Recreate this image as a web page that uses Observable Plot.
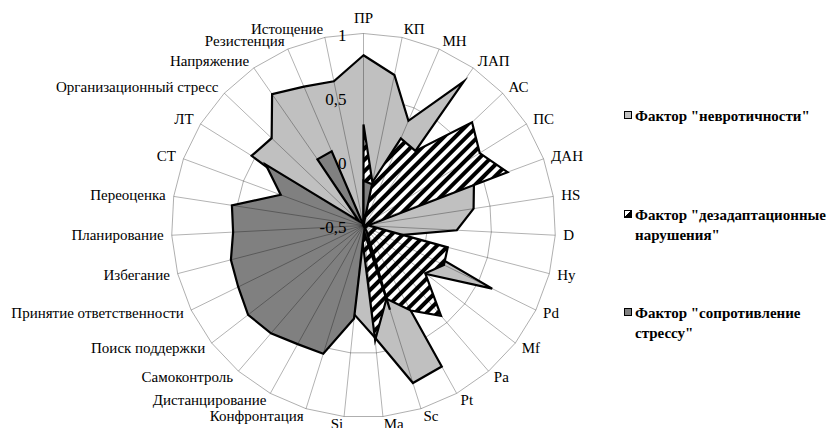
<!DOCTYPE html>
<html><head><meta charset="utf-8">
<script src="https://cdn.jsdelivr.net/npm/d3@7"></script>
<script src="https://cdn.jsdelivr.net/npm/@observablehq/plot@0.6"></script>
<style>
body{margin:0;background:#fff;}
#wrap{position:relative;width:836px;height:428px;overflow:hidden;}
#wrap svg text{font-family:"Liberation Serif","DejaVu Serif","Times New Roman",serif !important;}
.lg{position:absolute;left:635px;font-family:"Liberation Serif","DejaVu Serif","Times New Roman",serif;font-weight:bold;font-size:15px;line-height:20px;color:#000;white-space:nowrap;}
.sw{position:absolute;left:624px;width:6px;height:6px;border:1px solid #000;}
</style></head><body><div id="wrap"></div>
<script>
// ---- data ----
const categories = ["ПР","КП","МН","ЛАП","АС","ПС","ДАН","HS","D","Hy","Pd","Mf","Pa","Pt","Sc","Ma","Si",
  "Конфронтация","Дистанцирование","Самоконтроль","Поиск поддержки","Принятие ответственности","Избегание",
  "Планирование","Переоценка","СТ","ЛТ","Организационный стресс","Напряжение","Резистенция","Истощение"];
const neuroticism = [0.83, 0.70, 0.39, 0.87, -0.50, 0.10, 0.42, 0.37, 0.23, -0.20, 0.62, 0.12, -0.50, 0.76, 0.79, 0.38,
  0.20, 0.10, 0.10, 0.10, 0.10, 0.10, 0.10, 0.10, 0.10, -0.20, 0.53, 0.49, 0.75, 0.68, 0.65];
const maladaptation = [0.29, -0.155, 0.24, 0.21, 0.67, 0.57, 0.70, -0.44, -0.45, 0.18, 0.20, 0.11, 0.43, 0.26, 0.10, 0.40,
  -0.40, -0.50, -0.50, -0.50, -0.50, -0.50, -0.50, -0.50, -0.50, -0.50, -0.50, -0.50, -0.50, -0.50, -0.50];
const stressResistance = [-0.15, -0.17, -0.50, -0.50, -0.50, -0.50, -0.50, -0.50, -0.50, -0.50, -0.50, -0.50, -0.50, -0.45, 0.19, -0.45,
  0.23, 0.55, 0.56, 0.61, 0.64, 0.59, 0.57, 0.52, 0.54, 0.19, 0.40, -0.45, 0.13, 0.13, -0.50];
const ringTicks = [1, 0.5, 0, -0.5];
const ringTickLabels = ["1", "0,5", "0", "-0,5"];
const gridRings = [0, 0.5, 1];
const legendLabels = [["Фактор \"невротичности\""], ["Фактор \"дезадаптационные", "нарушения\""], ["Фактор \"сопротивление", "стрессу\""]];

// ---- layout ----
const W = 836, H = 428, cx = 363, cy = 225, R = 192;
const vMin = -0.5, vMax = 1;
const n = categories.length;
const rad = v => (v - vMin) / (vMax - vMin);
const ang = i => 2 * Math.PI * i / n;
const pt = (i, v) => ({x: rad(v) * Math.sin(ang(i)), y: rad(v) * Math.cos(ang(i))});
const poly = vals => vals.map((v, i) => pt(i, v));

const ringPts = gridRings.flatMap(v => categories.map((c, i) => ({...pt(i, v), ring: v})));
const lblR = 1.042;
const labels = categories.map((c, i) => ({c, i, x: lblR * Math.sin(ang(i)), y: lblR * Math.cos(ang(i)), s: Math.sin(ang(i))}));
const font = "Liberation Serif, DejaVu Serif, serif";
const outline = {x: "x", y: "y", curve: "linear-closed", stroke: "#000", strokeWidth: 2.2, strokeLinejoin: "miter", strokeMiterlimit: 6};

const chart = Plot.plot({
  width: W, height: H, margin: 0,
  x: {domain: [-cx / R, (W - cx) / R], axis: null},
  y: {domain: [-(H - cy) / R, cy / R], axis: null},
  style: {background: "#fff"},
  marks: [
    Plot.line(ringPts, {x: "x", y: "y", z: "ring", curve: "linear-closed", stroke: "#9a9a9a", strokeWidth: 0.8}),
    Plot.line(poly(neuroticism), {...outline, fill: "#c0c0c0"}),
    Plot.line(poly(maladaptation), {...outline, fill: "url(#hatch)"}),
    Plot.line(poly(stressResistance), {...outline, fill: "#808080"}),
    Plot.link(categories, {x1: () => 0, y1: () => 0, x2: (d, i) => pt(i, 1).x, y2: (d, i) => pt(i, 1).y,
      stroke: "#000", strokeOpacity: 0.38, strokeWidth: 0.8}),
    Plot.text(ringTicks, {x: () => 0, y: v => rad(v), text: (d, i) => ringTickLabels[i], textAnchor: "end",
      dx: -17, dy: 2, fontSize: 17, fontFamily: font, fill: "#000"}),
    Plot.text(labels.filter(d => d.s > 0.02), {x: "x", y: "y", text: "c", textAnchor: "start", lineAnchor: "middle", fontSize: 15, fontFamily: font, fill: "#000"}),
    Plot.text(labels.filter(d => d.s < -0.02), {x: "x", y: "y", text: "c", textAnchor: "end", lineAnchor: "middle", fontSize: 15, fontFamily: font, fill: "#000"}),
    Plot.text(labels.filter(d => Math.abs(d.s) <= 0.02), {x: "x", y: "y", text: "c", textAnchor: "middle", lineAnchor: "bottom", dy: -2, fontSize: 15, fontFamily: font, fill: "#000"})
  ]
});

const defs = d3.select(chart).insert("defs", ":first-child");
const pat = defs.append("pattern").attr("id", "hatch").attr("patternUnits", "userSpaceOnUse")
  .attr("width", 8).attr("height", 8).attr("patternTransform", "rotate(45)");
pat.append("rect").attr("width", 8).attr("height", 8).attr("fill", "#fff");
pat.append("rect").attr("width", 4).attr("height", 8).attr("fill", "#000");

const wrap = document.getElementById("wrap");
wrap.appendChild(chart);

// legend
const tops = [106, 205, 303];
const swFills = ["#c0c0c0", "linear-gradient(to bottom right, #fff 50%, #000 50%)", "#808080"];
legendLabels.forEach((lines, k) => {
  const sw = document.createElement("div");
  sw.className = "sw";
  sw.style.top = (tops[k] + 5) + "px";
  sw.style.background = swFills[k];
  wrap.appendChild(sw);
  const t = document.createElement("div");
  t.className = "lg";
  t.style.top = tops[k] + "px";
  t.innerHTML = lines.map(s => s.replace(/&/g, "&amp;").replace(/</g, "&lt;")).join("<br>");
  wrap.appendChild(t);
});
</script></body></html>
